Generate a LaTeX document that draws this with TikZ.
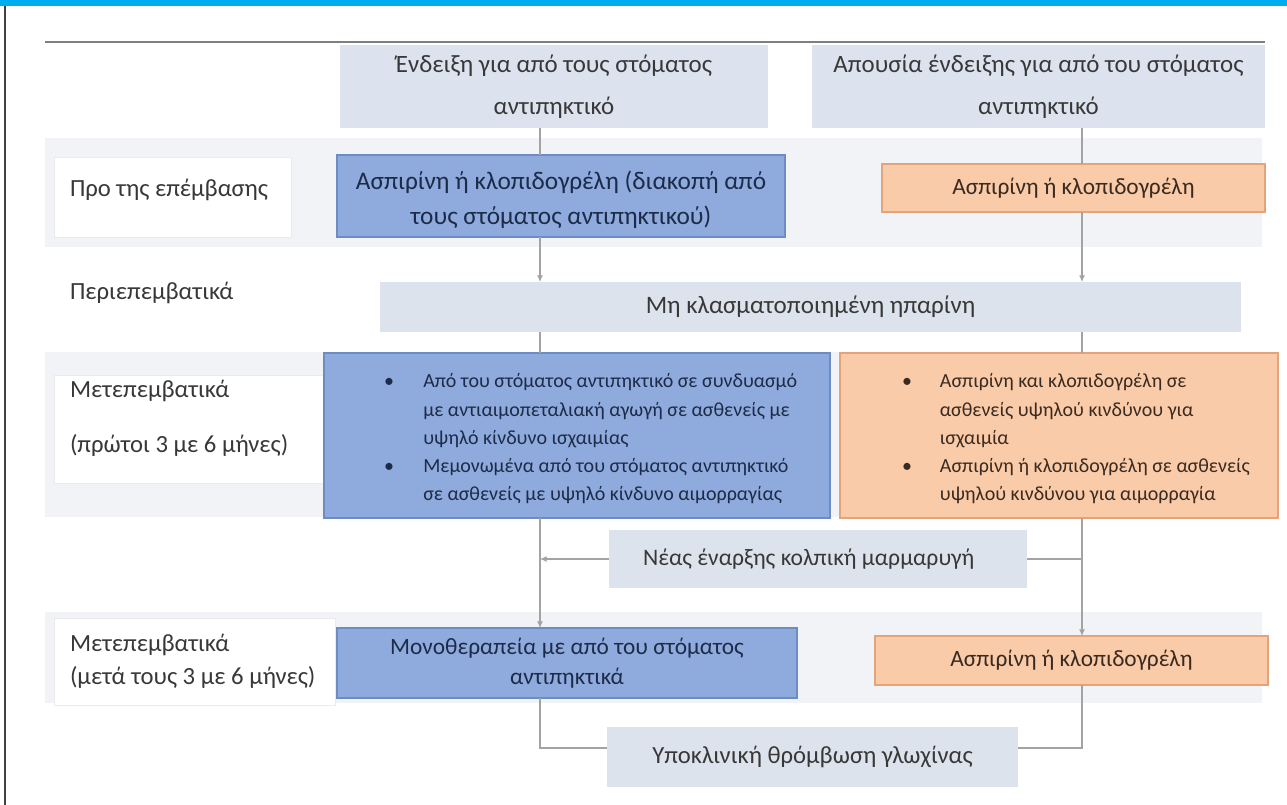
\documentclass[tikz,border=0pt]{standalone}
\usepackage{fontspec}
\setmainfont{Carlito}
\usetikzlibrary{arrows.meta,fit}
\definecolor{cyanbar}{HTML}{00AEEF}
\definecolor{hdrfill}{HTML}{DCE3EE}
\definecolor{bandfill}{HTML}{F1F3F6}
\definecolor{bluefill}{HTML}{8FAADC}
\definecolor{blueedge}{HTML}{6C8CC4}
\definecolor{bluetext}{HTML}{1C2B48}
\definecolor{orfill}{HTML}{F9CBA8}
\definecolor{oredge}{HTML}{E3A47C}
\definecolor{ortext}{HTML}{3A2A20}
\definecolor{lightfill}{HTML}{DDE3EC}
\definecolor{conngray}{HTML}{A3A3A3}
\definecolor{txtgray}{HTML}{383838}
\definecolor{rulegray}{HTML}{7F7F7F}
\begin{document}
\begin{tikzpicture}[x=0.75pt,y=-0.75pt,
  every node/.style={inner sep=0pt, outer sep=0pt},
  hdrbox/.style={fill=hdrfill, text=txtgray, align=center, font=\fontsize{18.7}{31.5}\selectfont},
  band/.style={fill=bandfill},
  labelbox/.style={fill=white, draw=black!8, line width=0.6pt},
  labeltext/.style={text=txtgray, anchor=west, align=left, font=\fontsize{18.5}{23}\selectfont},
  bluebox/.style={fill=bluefill, draw=blueedge, line width=1pt, text=bluetext, align=center},
  orbox/.style={fill=orfill, draw=oredge, line width=1pt, text=ortext, align=center},
  lightbox/.style={fill=lightfill, text=txtgray, align=center, font=\fontsize{18.5}{24}\selectfont},
  conn/.style={draw=conngray, line width=0.8pt},
  arr/.style={conn, -{Latex[length=5pt,width=4.5pt]}}
]
\useasboundingbox (0,0) rectangle (1287,805);
\fill[white] (0,0) rectangle (1287,805);
\fill[cyanbar] (0,0) rectangle (1287,6);
\draw[black!75, line width=1.5pt] (5,6) -- (5,805);
\draw[rulegray, line width=2.2pt] (45,42) -- (1265,42);

\coordinate (colL) at (540,0);
\coordinate (colR) at (1082,0);

% bands
\node[band, fit={(45,138) (1262,247)}] (band1) {};
\node[band, fit={(45,352) (1262,517)}] (band2) {};
\node[band, fit={(45,612) (1262,703)}] (band3) {};

% headers
\node[hdrbox, fit={(340,45) (768,128)}] (hL) {};
\node[hdrbox, anchor=center] (hLt) at (hL.center) {Ένδειξη για από τους στόματος\\αντιπηκτικό};
\node[hdrbox, fit={(812,45) (1265,128)}] (hR) {};
\node[hdrbox, anchor=center] (hRt) at (hR.center) {Απουσία ένδειξης για από του στόματος\\αντιπηκτικό};

% row 1
\node[labelbox, fit={(54,157) (291,237)}] (lab1) {};
\node[labeltext] (lab1t) at (70,190) {Προ της επέμβασης};
\node[bluebox, fit={(337,155) (785,237)}] (b1) {};
\node[text=bluetext, align=center, font=\fontsize{19}{26}\selectfont] (b1t) at ([yshift=-3pt]b1.center) {Ασπιρίνη ή κλοπιδογρέλη (διακοπή από\\τους στόματος αντιπηκτικού)};
\node[orbox, fit={(882,164) (1265,212)}] (o1) {};
\node[text=ortext, font=\fontsize{17.5}{22}\selectfont] (o1t) at (o1.center) {Ασπιρίνη ή κλοπιδογρέλη};

% perioperative
\node[labeltext] (lab2t) at (70,293) {Περιεπεμβατικά};
\node[lightbox, fit={(380,282) (1241,332)}, font=\fontsize{18.8}{24}\selectfont] (hep) {};
\node[lightbox, font=\fontsize{18.8}{24}\selectfont] (hept) at (hep.center) {Μη κλασματοποιημένη ηπαρίνη};

% row 2
\node[labelbox, fit={(54,375) (330,483)}] (lab3) {};
\node[labeltext] (lab3a) at (70,391) {Μετεπεμβατικά};
\node[labeltext] (lab3b) at (70,445) {(πρώτοι 3 με 6 μήνες)};
\node[bluebox, fit={(324,353) (830,518)}] (b2) {};
\node[text=bluetext, anchor=north west, align=left, font=\fontsize{15}{21.2}\selectfont] (b2t) at (384,368)
 {\begin{tabular}{@{}l@{\hspace{22pt}}l@{}}
 \textbullet & Από του στόματος αντιπηκτικό σε συνδυασμό\\
 & με αντιαιμοπεταλιακή αγωγή σε ασθενείς με\\
 & υψηλό κίνδυνο ισχαιμίας\\
 \textbullet & Μεμονωμένα από του στόματος αντιπηκτικό\\
 & σε ασθενείς με υψηλό κίνδυνο αιμορραγίας
 \end{tabular}};
\node[orbox, fit={(840,353) (1278,518)}] (o2) {};
\node[text=ortext, anchor=north west, align=left, font=\fontsize{15}{21.2}\selectfont] (o2t) at (902,368)
 {\begin{tabular}{@{}l@{\hspace{21pt}}l@{}}
 \textbullet & Ασπιρίνη και κλοπιδογρέλη σε\\
 & ασθενείς υψηλού κινδύνου για\\
 & ισχαιμία\\
 \textbullet & Ασπιρίνη ή κλοπιδογρέλη σε ασθενείς\\
 & υψηλού κινδύνου για αιμορραγία
 \end{tabular}};

% new AF
\node[lightbox, fit={(609,530) (1027,588)}] (af) {};
\node[lightbox, font=\fontsize{17.7}{24}\selectfont] (aft) at ([xshift=-7pt]af.center) {Νέας έναρξης κολπική μαρμαρυγή};

% row 3
\node[labelbox, fit={(54,618) (335,705)}] (lab4) {};
\node[labeltext] (lab4a) at (70,645) {Μετεπεμβατικά};
\node[labeltext] (lab4b) at (70,677) {(μετά τους 3 με 6 μήνες)};
\node[bluebox, fit={(337,628) (797,698)}] (b3) {};
\node[text=bluetext, align=center, font=\fontsize{17.5}{22.5}\selectfont] (b3t) at (b3.center) {Μονοθεραπεία με από του στόματος\\αντιπηκτικά};
\node[orbox, fit={(875,636) (1268,685)}] (o3) {};
\node[text=ortext, font=\fontsize{17.5}{22}\selectfont] (o3t) at (o3.center) {Ασπιρίνη ή κλοπιδογρέλη};

% subclinical
\node[lightbox, fit={(607,727) (1018,787)}] (sub) {};
\node[lightbox] (subt) at (sub.center) {Υποκλινική θρόμβωση γλωχίνας};

% connectors
\draw[conn] (hL.south -| colL) -- (b1.north -| colL);
\draw[arr] (b1.south -| colL) -- (hep.north -| colL);
\draw[conn] (hR.south -| colR) -- (o1.north -| colR);
\draw[arr] (o1.south -| colR) -- (hep.north -| colR);
\draw[conn] (hep.south -| colL) -- (b2.north -| colL);
\draw[conn] (hep.south -| colR) -- (o2.north -| colR);
\draw[arr] (b2.south -| colL) -- (b3.north -| colL);
\draw[arr] (o2.south -| colR) -- (o3.north -| colR);
\draw[arr] (af.west) -- (af.west -| colL);
\draw[conn] (af.east -| colR) -- (af.east);
\draw[conn] (b3.south -| colL) |- ([yshift=6.75pt]sub.west);
\draw[conn] (o3.south -| colR) |- ([yshift=6.75pt]sub.east);
\end{tikzpicture}
\end{document}
